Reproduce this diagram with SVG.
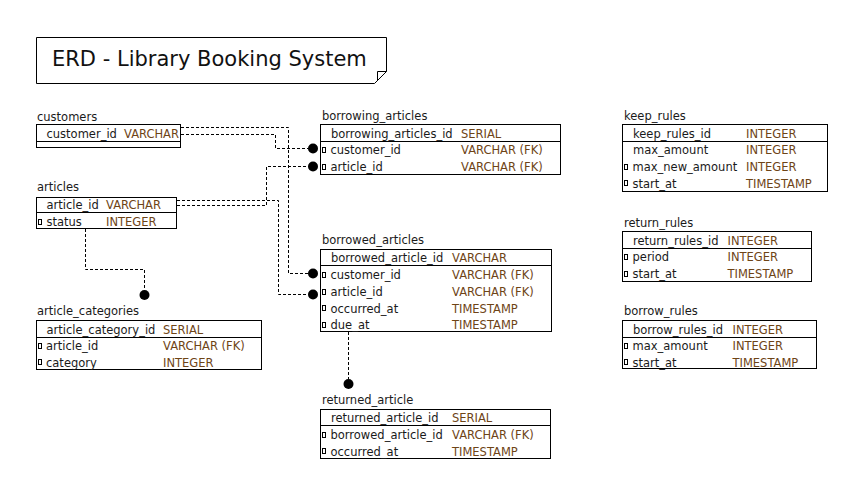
<svg xmlns="http://www.w3.org/2000/svg" width="864" height="492" viewBox="0 0 864 492">
<style>
text{font-family:"DejaVu Sans","Liberation Sans",sans-serif;font-size:11.5px;fill:#1a1a1a}
.t{fill:#6e4416}
.title{font-size:21px;fill:#111}
.box{fill:#fff;stroke:#000;stroke-width:1}
.sep{stroke:#000;stroke-width:1}
.ic{fill:#fff;stroke:#000;stroke-width:1}
.c{fill:none;stroke:#000;stroke-width:1;stroke-dasharray:3,2}
.dot{fill:#000}
</style>
<rect width="864" height="492" fill="#fff"/>
<g id="title">
<path class="box" d="M36.5,37.5 H386.5 V71.5 L374.5,83.5 H36.5 Z"/>
<path fill="none" stroke="#000" d="M386.5,71.5 H377.5 V80.5"/>
<text class="title" x="52" y="66">ERD - Library Booking System</text>
</g>
<g id="connectors">
<path class="c" d="M181,134.5 H275.5 V148.5 H308"/>
<path class="c" d="M181,127.5 H288.5 V273.5 H308"/>
<path class="c" d="M177,205.5 H266.5 V166.5 H308"/>
<path class="c" d="M177,200.5 H278.5 V294.5 H308"/>
<path class="c" d="M85.5,229 V269.5 H144.5 V290"/>
<path class="c" d="M348.5,332 V379"/>
<circle class="dot" cx="313" cy="148.5" r="5"/>
<circle class="dot" cx="313" cy="166.5" r="5"/>
<circle class="dot" cx="313" cy="273.5" r="5"/>
<circle class="dot" cx="313" cy="294.5" r="5"/>
<circle class="dot" cx="144.5" cy="295" r="5"/>
<circle class="dot" cx="348.5" cy="384" r="5"/>
</g>
<g id="customers">
<text x="37" y="121">customers</text>
<rect class="box" x="36.5" y="124.5" width="144" height="23"/>
<line class="sep" x1="36.5" y1="141.5" x2="180.5" y2="141.5"/>
<text x="46.5" y="137.5">customer_id</text><text class="t" x="124" y="137.5">VARCHAR</text>
</g>
<g id="articles">
<text x="37" y="191">articles</text>
<rect class="box" x="36.5" y="197.5" width="140" height="31"/>
<line class="sep" x1="36.5" y1="212.5" x2="176.5" y2="212.5"/>
<text x="46.5" y="209">article_id</text><text class="t" x="106" y="209">VARCHAR</text>
<rect class="ic" x="38.5" y="219.5" width="3" height="5"/>
<text x="46.5" y="226">status</text><text class="t" x="106" y="226">INTEGER</text>
</g>
<g id="borrowing_articles">
<text x="322" y="120">borrowing_articles</text>
<rect class="box" x="320.5" y="124.5" width="240" height="50"/>
<line class="sep" x1="320.5" y1="141.5" x2="560.5" y2="141.5"/>
<text x="331" y="137.5">borrowing_articles_id</text><text class="t" x="461" y="137.5">SERIAL</text>
<rect class="ic" x="322.5" y="147.5" width="3" height="5"/>
<text x="330.5" y="154">customer_id</text><text class="t" x="461" y="154">VARCHAR (FK)</text>
<rect class="ic" x="322.5" y="164.5" width="3" height="5"/>
<text x="330.5" y="171">article_id</text><text class="t" x="461" y="171">VARCHAR (FK)</text>
</g>
<g id="borrowed_articles">
<text x="322" y="243.5">borrowed_articles</text>
<rect class="box" x="320.5" y="249.5" width="231" height="82"/>
<line class="sep" x1="320.5" y1="265.5" x2="551.5" y2="265.5"/>
<text x="331" y="262">borrowed_article_id</text><text class="t" x="452" y="262">VARCHAR</text>
<rect class="ic" x="322.5" y="272.5" width="3" height="5"/>
<text x="330.5" y="279">customer_id</text><text class="t" x="452" y="279">VARCHAR (FK)</text>
<rect class="ic" x="322.5" y="289.5" width="3" height="5"/>
<text x="330.5" y="296">article_id</text><text class="t" x="452" y="296">VARCHAR (FK)</text>
<rect class="ic" x="322.5" y="305.5" width="3" height="5"/>
<text x="330.5" y="312.5">occurred_at</text><text class="t" x="452" y="312.5">TIMESTAMP</text>
<rect class="ic" x="322.5" y="322.5" width="3" height="5"/>
<text x="330.5" y="329">due_at</text><text class="t" x="452" y="329">TIMESTAMP</text>
</g>
<g id="article_categories">
<text x="37" y="315">article_categories</text>
<rect class="box" x="36.5" y="320.5" width="225" height="49"/>
<line class="sep" x1="36.5" y1="337.5" x2="261.5" y2="337.5"/>
<text x="46.5" y="333.5">article_category_id</text><text class="t" x="163" y="333.5">SERIAL</text>
<rect class="ic" x="38.5" y="343.5" width="3" height="5"/>
<text x="46" y="350">article_id</text><text class="t" x="163" y="350">VARCHAR (FK)</text>
<rect class="ic" x="38.5" y="359.5" width="3" height="5"/>
<text x="46" y="366.5">category</text><text class="t" x="163" y="366.5">INTEGER</text>
</g>
<g id="returned_article">
<text x="322" y="404">returned_article</text>
<rect class="box" x="320.5" y="409.5" width="230" height="49"/>
<line class="sep" x1="320.5" y1="425.5" x2="550.5" y2="425.5"/>
<text x="331" y="422">returned_article_id</text><text class="t" x="452" y="422">SERIAL</text>
<rect class="ic" x="322.5" y="432.5" width="3" height="5"/>
<text x="330.5" y="439">borrowed_article_id</text><text class="t" x="452" y="439">VARCHAR (FK)</text>
<rect class="ic" x="322.5" y="448.5" width="3" height="5"/>
<text x="330.5" y="455.5">occurred_at</text><text class="t" x="452" y="455.5">TIMESTAMP</text>
</g>
<g id="keep_rules">
<text x="624" y="120">keep_rules</text>
<rect class="box" x="622.5" y="124.5" width="205" height="67"/>
<line class="sep" x1="622.5" y1="141.5" x2="827.5" y2="141.5"/>
<text x="633" y="137.5">keep_rules_id</text><text class="t" x="746" y="137.5">INTEGER</text>
<text x="633" y="154">max_amount</text><text class="t" x="746" y="154">INTEGER</text>
<rect class="ic" x="624.5" y="164.5" width="3" height="5"/>
<text x="632.5" y="171">max_new_amount</text><text class="t" x="746" y="171">INTEGER</text>
<rect class="ic" x="624.5" y="180.5" width="3" height="5"/>
<text x="632.5" y="187.5">start_at</text><text class="t" x="746" y="187.5">TIMESTAMP</text>
</g>
<g id="return_rules">
<text x="624" y="226.5">return_rules</text>
<rect class="box" x="622.5" y="231.5" width="189" height="50"/>
<line class="sep" x1="622.5" y1="248.5" x2="811.5" y2="248.5"/>
<text x="633" y="244.5">return_rules_id</text><text class="t" x="727.5" y="244.5">INTEGER</text>
<rect class="ic" x="624.5" y="254.5" width="3" height="5"/>
<text x="632.5" y="261">period</text><text class="t" x="727.5" y="261">INTEGER</text>
<rect class="ic" x="624.5" y="271.5" width="3" height="5"/>
<text x="632.5" y="278">start_at</text><text class="t" x="727.5" y="278">TIMESTAMP</text>
</g>
<g id="borrow_rules">
<text x="624" y="315">borrow_rules</text>
<rect class="box" x="622.5" y="320.5" width="194" height="48"/>
<line class="sep" x1="622.5" y1="337.5" x2="816.5" y2="337.5"/>
<text x="633" y="333.5">borrow_rules_id</text><text class="t" x="732.5" y="333.5">INTEGER</text>
<rect class="ic" x="624.5" y="343.5" width="3" height="5"/>
<text x="632.5" y="350">max_amount</text><text class="t" x="732.5" y="350">INTEGER</text>
<rect class="ic" x="624.5" y="359.5" width="3" height="5"/>
<text x="632.5" y="366.5">start_at</text><text class="t" x="732.5" y="366.5">TIMESTAMP</text>
</g>
</svg>
